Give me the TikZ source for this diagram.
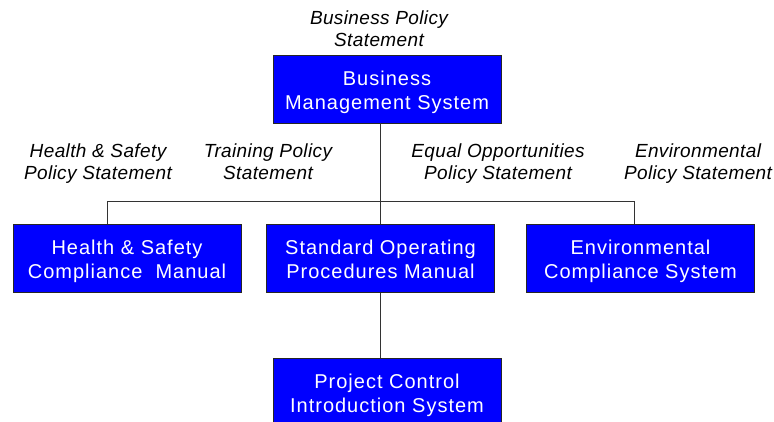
\documentclass[tikz,border=0pt]{standalone}
\usepackage{fontspec}
\setmainfont{Liberation Sans}
\begin{document}
\begin{tikzpicture}[
    x=1pt, y=-1pt,
    unit/.style={rectangle, draw=black!85, fill=blue, text=white, align=center, minimum width=228pt, text height=53.5pt, text depth=13.5pt, inner xsep=0pt, inner ysep=0.5pt, font=\fontsize{20}{24}\selectfont\addfontfeature{LetterSpace=5}},
    policy/.style={align=center, inner sep=0pt, font=\fontsize{19}{22}\selectfont\itshape\addfontfeature{LetterSpace=2}, execute at begin node=\strut, execute at end node=\strut},
    link/.style={draw=black!80, line width=0.9pt}
]
\useasboundingbox (0,0) rectangle (774,421);

% units
\node[unit] (bms) at (387,89) {Business\\Management System};
\node[unit] (hsm) at (127,258.5) {Health \& Safety\\Compliance~~Manual};
\node[unit] (sop) at (380.5,258.5) {Standard Operating\\Procedures Manual};
\node[unit] (ecs) at (640.5,258.5) {Environmental\\Compliance System};
\node[unit] (pci) at (387,392) {Project Control\\Introduction System};

% policy statements
\node[policy] (bps) at (379,32) {Business Policy\\Statement};
\node[policy] (hsps) at (98,165) {Health \& Safety\\Policy Statement};
\node[policy] (tps) at (268,165) {Training Policy\\Statement};
\node[policy] (eops) at (498,165) {Equal Opportunities\\Policy Statement};
\node[policy] (envps) at (698,165) {Environmental\\Policy Statement};

% connectors
\coordinate (trunk) at (380,201);
\coordinate (hsdrop) at (107,201);
\coordinate (ecsdrop) at (634,201);
\draw[link] (bms.south -| trunk) -- (sop.north -| trunk);
\draw[link] (sop.south -| trunk) -- (pci.north -| trunk);
\draw[link] (hsm.north -| hsdrop) -- (hsdrop) -- (ecsdrop) -- (ecs.north -| ecsdrop);
\end{tikzpicture}
\end{document}
